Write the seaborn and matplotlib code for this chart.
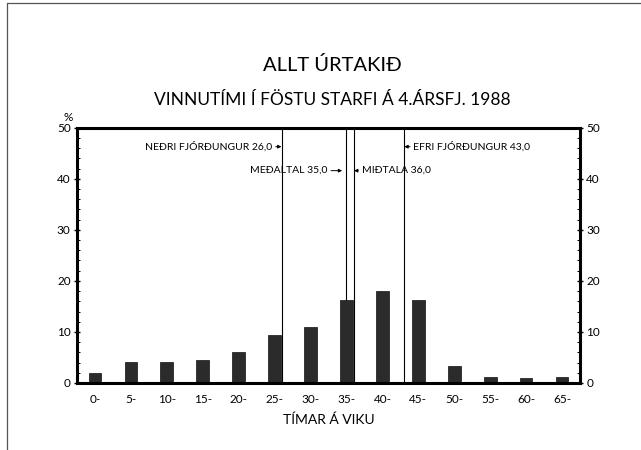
import matplotlib
matplotlib.use("Agg")
from matplotlib import pyplot as plt
from matplotlib.lines import Line2D
from matplotlib.ticker import MultipleLocator
import seaborn as sns
import pandas as pd

# Hours worked per week, start of each 5 hour band
hours = [0, 5, 10, 15, 20, 25, 30, 35, 40, 45, 50, 55, 60, 65]
tick_labels = ['0-', '5-', '10-', '15-', '20-', '25-', '30-', '35-', '40-', '45-', '50-', '55-', '60-', '65-']
percent = [2.0, 4.1, 4.1, 4.5, 6.1, 9.3, 10.9, 16.2, 18.0, 16.2, 3.3, 1.2, 0.9, 1.1]

# Reference lines: (value, label)
stat_values = [26.0, 35.0, 36.0, 43.0]
stat_labels = ['NEÐRI FJÓRÐUNGUR 26,0', 'MEÐALTAL 35,0', 'MIÐTALA 36,0', 'EFRI FJÓRÐUNGUR 43,0']

df = pd.DataFrame({'hours': hours, 'percent': percent})

sns.set_style("ticks")
plt.rcParams['font.family'] = ['Lato', 'DejaVu Sans']
plt.rcParams['text.color'] = 'black'
plt.rcParams['axes.labelcolor'] = 'black'
plt.rcParams['xtick.color'] = 'black'
plt.rcParams['ytick.color'] = 'black'

fig = plt.figure(figsize=(6.41, 4.5), dpi=100)
ax = fig.add_axes([0.120, 0.149, 0.785, 0.567])

sns.barplot(x='hours', y='percent', data=df, native_scale=True, width=0.35,
            color='#2b2b2b', saturation=1, edgecolor='#111111', linewidth=0.5, ax=ax)

for v in stat_values:
    ax.axvline(v, color='black', linewidth=0.8, zorder=0)

arrow = dict(arrowstyle='-|>', color='black', lw=0.7, mutation_scale=5, shrinkA=0, shrinkB=0)
fs = 7.5
# left side labels
ax.annotate(stat_labels[0], xy=(stat_values[0] - 0.05, 46.3), xytext=(24.7, 46.3),
            ha='right', va='center', fontsize=fs, arrowprops=arrow)
ax.annotate(stat_labels[1], xy=(stat_values[1] - 0.6, 41.6), xytext=(32.4, 41.6),
            ha='right', va='center', fontsize=fs, arrowprops=arrow)
# right side labels
ax.annotate(stat_labels[2], xy=(stat_values[2] + 0.05, 41.6), xytext=(37.1, 41.6),
            ha='left', va='center', fontsize=fs, arrowprops=arrow)
ax.annotate(stat_labels[3], xy=(stat_values[3] + 0.05, 46.3), xytext=(44.3, 46.3),
            ha='left', va='center', fontsize=fs, arrowprops=arrow)

ax.set_xlim(-2.5, 67.5)
ax.set_ylim(0, 50)
ax.set_xticks(hours)
ax.set_xticklabels(tick_labels)
ax.yaxis.set_major_locator(MultipleLocator(10))
ax.yaxis.set_minor_locator(MultipleLocator(2))
ax.tick_params(axis='x', length=0, labelsize=8.5, pad=8)
ax.tick_params(axis='y', which='major', direction='inout', length=5, width=1,
               left=True, right=True, labelleft=True, labelright=True, labelsize=8.5, pad=2)
ax.tick_params(axis='y', which='minor', direction='in', length=2, width=0.7,
               left=True, right=True)
for side in ['left', 'right', 'bottom', 'top']:
    ax.spines[side].set_visible(True)
    ax.spines[side].set_linewidth(2.2)
    ax.spines[side].set_color('black')
ax.set_xlabel('TÍMAR Á VIKU', fontsize=10, labelpad=6)
ax.set_ylabel('')
ax.text(-0.018, 1.02, '%', transform=ax.transAxes, ha='center', va='bottom', fontsize=8.5)

fig.text(0.518, 0.855, 'ALLT ÚRTAKIÐ', ha='center', va='center', fontsize=14.5)
fig.text(0.518, 0.777, 'VINNUTÍMI Í FÖSTU STARFI Á 4.ÁRSFJ. 1988', ha='center', va='center', fontsize=12.5)

# page frame
fig.add_artist(Line2D([0.011, 1.0], [0.993, 0.993], color='#555555', lw=0.9, transform=fig.transFigure))
fig.add_artist(Line2D([0.011, 0.011], [0.0, 0.993], color='#555555', lw=0.9, transform=fig.transFigure))

fig.savefig('out.png', dpi=100, facecolor='white')
